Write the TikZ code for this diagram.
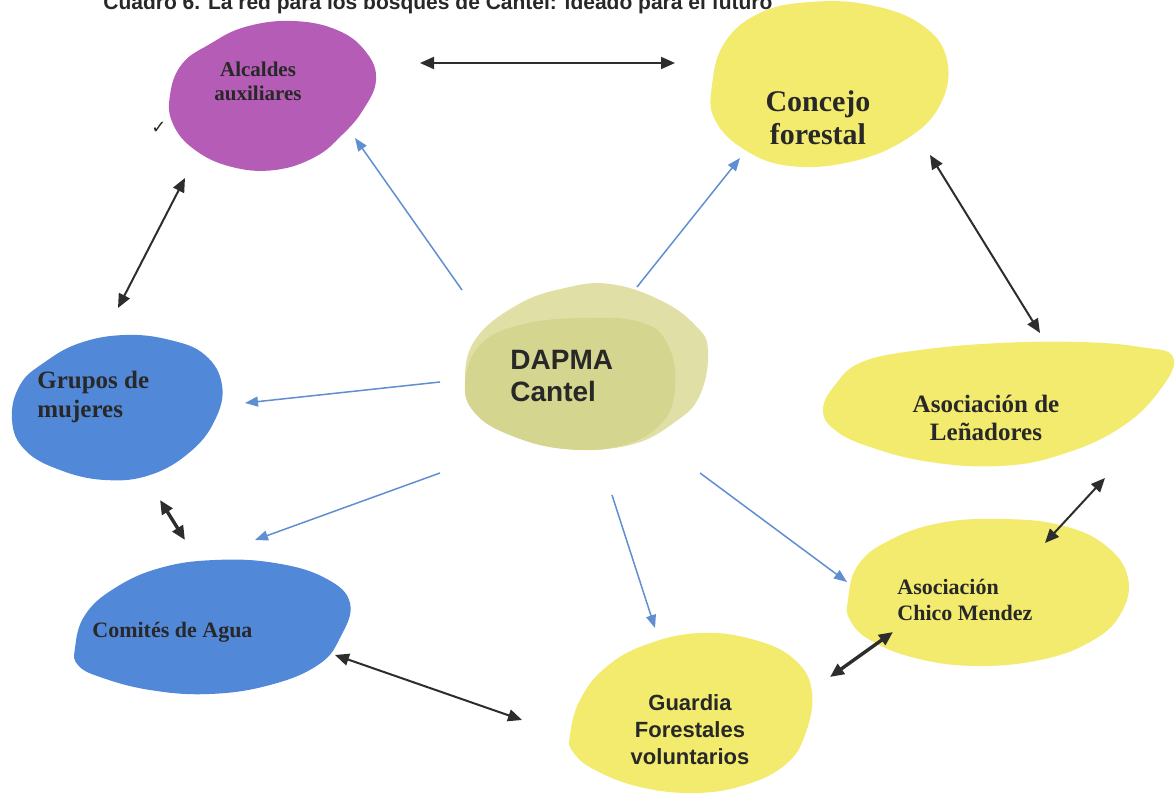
\documentclass[tikz,border=0pt]{standalone}
\usepackage{fontspec}
\setmainfont{Liberation Serif}
\newfontfamily\sansb{Liberation Sans}
\newfontfamily\symf{DejaVu Sans}
\usetikzlibrary{arrows.meta}
\definecolor{purp}{RGB}{180,92,182}
\definecolor{yel}{RGB}{242,235,110}
\definecolor{blu}{RGB}{82,136,216}
\definecolor{dapback}{RGB}{224,224,166}
\definecolor{dapfront}{RGB}{212,213,142}
\definecolor{arrblue}{RGB}{96,142,210}
\definecolor{arrdark}{RGB}{45,45,45}
\definecolor{txt}{RGB}{40,40,40}
\tikzset{
  twoway/.style={draw=arrdark, line width=1pt, {Triangle[length=7pt,width=6pt]}-{Triangle[length=7pt,width=6pt]}},
  twowaythick/.style={twoway, line width=1.7pt},
  oneway/.style={draw=arrblue, line width=0.75pt, -{Triangle[length=6.5pt,width=5pt]}},
  lbl/.style={inner sep=0pt, text=txt, font=\bfseries},
}
\begin{document}
\begin{tikzpicture}[x=0.5pt,y=-0.5pt]
\useasboundingbox (0,0) rectangle (1175,796);
% title (cut at the top, as in the reference)
\begin{scope}
\clip (0,0) rectangle (1175,796);
\node[inner sep=0pt, anchor=base west, text=txt, font=\sansb\bfseries\fontsize{10.5}{12}\selectfont] (title) at (103,10) {Cuadro 6. La red para los bosques de Cantel: ideado para el futuro};
\end{scope}
% blobs
\fill[purp] plot[smooth cycle, tension=0.7] coordinates {(170,95) (182,64) (210,44) (245,27) (292,21) (337,30) (366,52) (376,80) (363,110) (342,135) (315,157) (275,170) (232,167) (195,150) (173,124)};
\fill[yel] plot[smooth cycle, tension=0.7] coordinates {(712,85) (725,42) (760,13) (810,2) (870,5) (922,25) (947,60) (940,105) (905,140) (850,162) (790,166) (745,150) (715,120)};
\fill[dapback] plot[smooth cycle, tension=0.7] coordinates {(465,383) (475,340) (517,305) (565,288) (610,284) (660,300) (695,325) (708,350) (700,395) (675,422) (630,445) (565,449) (510,435) (475,413)};
\fill[dapfront] plot[smooth cycle, tension=0.7] coordinates {(465,383) (480,345) (520,325) (580,318) (640,322) (668,345) (675,390) (660,425) (620,446) (565,449) (510,435) (475,413)};
\fill[blu] plot[smooth cycle, tension=0.7] coordinates {(12,420) (20,385) (45,362) (80,343) (125,335) (170,340) (205,355) (222,385) (215,420) (190,452) (150,475) (105,480) (60,470) (25,450)};
\fill[yel] plot[smooth cycle, tension=0.7] coordinates {(823,410) (835,385) (862,362) (920,350) (1000,343) (1080,342) (1140,347) (1173,357) (1160,390) (1120,428) (1060,455) (1000,466) (930,462) (870,447) (835,430)};
\fill[yel] plot[smooth cycle, tension=0.7] coordinates {(848,600) (858,565) (890,540) (940,523) (1000,519) (1060,525) (1105,545) (1128,578) (1120,615) (1090,642) (1040,660) (975,666) (915,658) (870,640) (850,620)};
\fill[yel] plot[smooth cycle, tension=0.7] coordinates {(570,735) (580,700) (605,668) (645,645) (700,633) (755,640) (795,660) (812,692) (805,735) (785,765) (745,785) (695,793) (640,787) (595,770) (573,752)};
\fill[blu] plot[smooth cycle, tension=0.7] coordinates {(75,648) (85,615) (115,588) (160,568) (215,560) (275,563) (325,578) (350,603) (340,638) (318,665) (270,685) (210,694) (150,690) (100,677) (78,665)};
% labels
\node[lbl, align=center, font=\bfseries\fontsize{10.5}{12}\selectfont] (alc) at (258,81) {Alcaldes\\auxiliares};
\node[lbl, align=center, font=\bfseries\fontsize{15}{16.5}\selectfont] (con) at (818,118) {Concejo\\forestal};
\node[lbl, align=left, anchor=west, font=\sansb\bfseries\fontsize{14}{16}\selectfont] (dap) at (510,376) {DAPMA\\Cantel};
\node[lbl, align=left, anchor=west, font=\bfseries\fontsize{12.5}{14.5}\selectfont] (gru) at (37,397) {Grupos de\\mujeres};
\node[lbl, align=center, font=\bfseries\fontsize{12.5}{14}\selectfont] (len) at (986,418) {Asociación de\\Leñadores};
\node[lbl, anchor=west, font=\bfseries\fontsize{11}{13}\selectfont] (com) at (92,632) {Comités de Agua};
\node[lbl, align=left, anchor=west, font=\bfseries\fontsize{11}{13}\selectfont] (chi) at (897,600) {Asociación\\Chico Mendez};
\node[lbl, align=center, font=\sansb\bfseries\fontsize{11}{13.5}\selectfont] (gua) at (690,730) {Guardia\\Forestales\\voluntarios};
\node[inner sep=0pt, text=txt, font=\symf\fontsize{9}{10}\selectfont] (chk) at (159,128) {✓};
% connector end points
\coordinate (ac1) at (420,63);   \coordinate (ac2) at (675,63);
\coordinate (cl1) at (930,155);  \coordinate (cl2) at (1040,333);
\coordinate (ag1) at (185,178);  \coordinate (ag2) at (118,308);
\coordinate (gc1) at (160,500);  \coordinate (gc2) at (185,540);
\coordinate (cg1) at (335,655);  \coordinate (cg2) at (522,720);
\coordinate (gm1) at (830,677);  \coordinate (gm2) at (893,632);
\coordinate (ml1) at (1045,543); \coordinate (ml2) at (1105,478);
\coordinate (da1) at (462,290);  \coordinate (da2) at (355,138);
\coordinate (dc1) at (637,287);  \coordinate (dc2) at (740,158);
\coordinate (dg1) at (440,382);  \coordinate (dg2) at (245,403);
\coordinate (dm1) at (440,473);  \coordinate (dm2) at (255,540);
\coordinate (du1) at (612,495);  \coordinate (du2) at (655,628);
\coordinate (dh1) at (700,473);  \coordinate (dh2) at (847,582);
% black two-way connectors
\draw[twoway] (ac1) -- (ac2);
\draw[twoway] (cl1) -- (cl2);
\draw[twoway] (ag1) -- (ag2);
\draw[twowaythick] (gc1) -- (gc2);
\draw[twoway] (cg1) -- (cg2);
\draw[twowaythick] (gm1) -- (gm2);
\draw[twoway] (ml1) -- (ml2);
% blue connectors from DAPMA
\draw[oneway] (da1) -- (da2);
\draw[oneway] (dc1) -- (dc2);
\draw[oneway] (dg1) -- (dg2);
\draw[oneway] (dm1) -- (dm2);
\draw[oneway] (du1) -- (du2);
\draw[oneway] (dh1) -- (dh2);
\end{tikzpicture}
\end{document}
